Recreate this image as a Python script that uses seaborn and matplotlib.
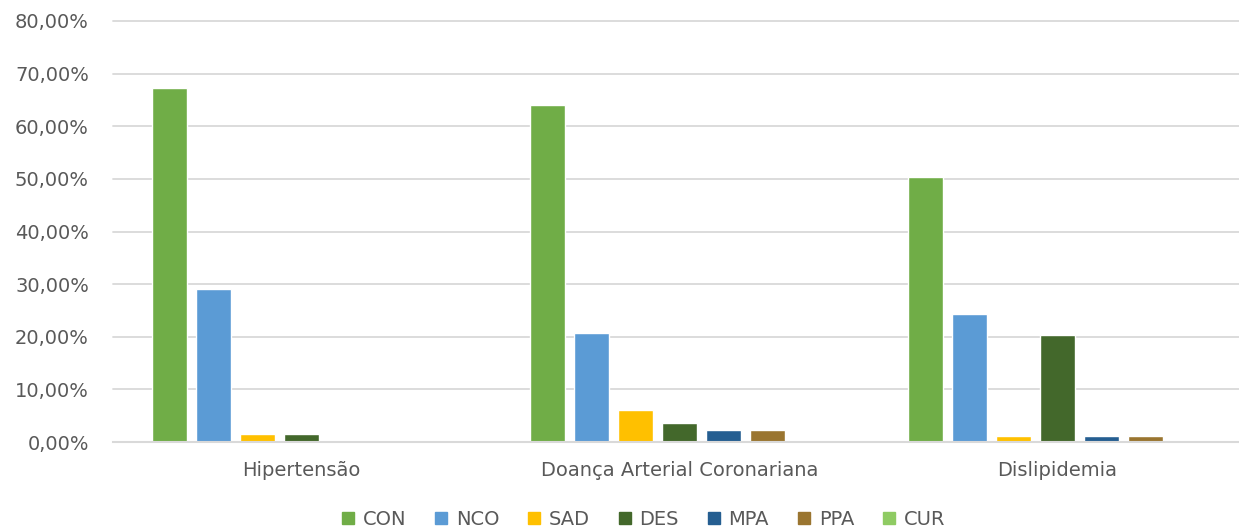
import matplotlib
matplotlib.use("Agg")
import matplotlib.pyplot as plt
import seaborn as sns
import pandas as pd
from matplotlib.ticker import FuncFormatter, MultipleLocator

categories = ["Hipertensão", "Doança Arterial Coronariana", "Dislipidemia"]
series = ["CON", "NCO", "SAD", "DES", "MPA", "PPA", "CUR"]
CON = [0.672, 0.641, 0.504]
NCO = [0.290, 0.207, 0.243]
SAD = [0.015, 0.061, 0.011]
DES = [0.015, 0.036, 0.203]
MPA = [0.0, 0.022, 0.011]
PPA = [0.0, 0.022, 0.011]
CUR = [0.0, 0.0, 0.0]
colors = ["#70AD47", "#5B9BD5", "#FFC000", "#43682B", "#255E91", "#9A7530", "#8FCB63"]

values = {"CON": CON, "NCO": NCO, "SAD": SAD, "DES": DES, "MPA": MPA, "PPA": PPA, "CUR": CUR}
rows = []
for s in series:
    for c, v in zip(categories, values[s]):
        rows.append({"cat": c, "serie": s, "val": v})
df = pd.DataFrame(rows)

sns.set_style("white")
plt.rcParams["font.family"] = ["DejaVu Sans"]
txt = "#595959"

fig = plt.figure(figsize=(12.39, 5.30), dpi=100)
left, right = 112.5, 1246.5
ax = fig.add_axes([left/1239, 1-442/530, (right-left)/1239, (442-21)/530])

sns.barplot(data=df, x="cat", y="val", hue="serie", order=categories, hue_order=series,
            palette=colors, saturation=1, width=308/378, gap=0.2, ax=ax, legend=False)

ax.set_ylim(0, 0.8)
ax.yaxis.set_major_locator(MultipleLocator(0.1))
ax.yaxis.set_major_formatter(FuncFormatter(lambda v, p: f"{v*100:.2f}%".replace(".", ",")))
ax.grid(axis="y", color="#D9D9D9", linewidth=1.3)
ax.set_axisbelow(True)
for gl in ax.get_ygridlines():
    gl.set_clip_on(False)
for sp in ["top", "right", "left"]:
    ax.spines[sp].set_visible(False)
ax.spines["bottom"].set_color("#D9D9D9")
ax.spines["bottom"].set_linewidth(1.5)
ax.set_xlabel("")
ax.set_ylabel("")
ax.tick_params(axis="both", length=0, labelsize=14, colors=txt)
ax.tick_params(axis="y", pad=17)
ax.tick_params(axis="x", pad=14)
ax.set_xlim(-0.5, 2.5)

handles = [plt.Line2D([], [], marker="s", linestyle="", markersize=9, color=c) for c in colors]
fig.legend(handles, series, loc="center", bbox_to_anchor=(0.518, 0.02), ncol=7,
           frameon=False, fontsize=14, handletextpad=0.25, columnspacing=1.3,
           labelcolor=txt, handlelength=1.0, borderpad=0)

fig.savefig("out.png", dpi=100)
